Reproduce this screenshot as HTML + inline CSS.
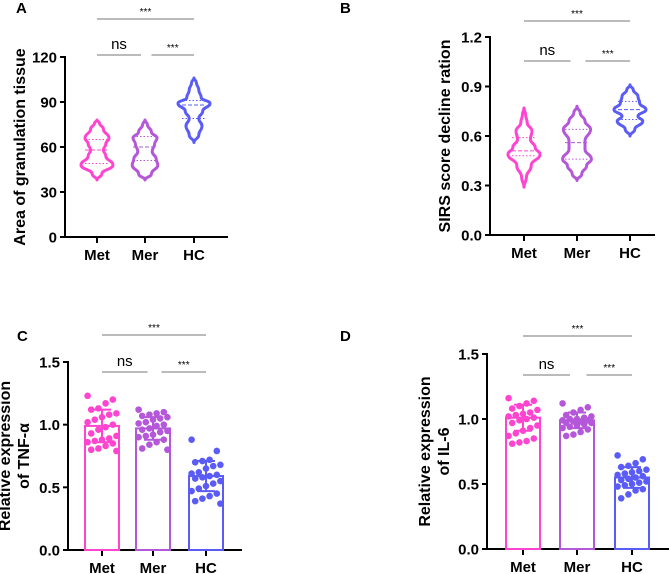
<!DOCTYPE html>
<html><head><meta charset="utf-8"><style>
body{margin:0;background:#fff;}
svg{display:block;font-family:"Liberation Sans",Arial,sans-serif;}
</style></head><body>
<svg id="c" width="669" height="574" viewBox="0 0 669 574"></svg>
<script>
const cats=["Met","Mer","HC"];
const colors=["#ff45cf","#b557d9","#5b5cf6"];
// Panel A violins
const aVals=[[38,42,48,54,58,62,66,72,76,78],[38,42,48,52,57,62,66,70,75,78],[63,68,74,79,84,89,93,98,103,106]];
const aDens=[[0,.3,1,.55,.4,.55,.75,.4,.15,0],[0,.4,.8,.7,.45,.6,.75,.4,.15,0],[0,.3,.5,.3,.55,1,.45,.3,.15,0]];
const aQuart=[[49,58,65],[51,60,67],[79,88,91]];
const aTicks=[0,30,60,90,120];
// Panel B violins
const bVals=[[.29,.35,.42,.49,.53,.58,.63,.68,.73,.77],[.33,.37,.42,.46,.52,.57,.64,.69,.74,.78],[.6,.64,.69,.72,.76,.8,.84,.88,.91]];
const bDens=[[0,.15,.45,1,.7,.4,.5,.2,.1,0],[0,.3,.6,.9,.5,.5,.85,.5,.2,0],[0,.3,.8,.5,1,.6,.5,.2,0]];
const bQuart=[[.48,.51,.59],[.46,.56,.64],[.70,.76,.81]];
const bTicks=[0,0.3,0.6,0.9,1.2];
// Panel C bars
const cMeans=[0.99,0.97,0.59];
const cSD=[0.13,0.09,0.12];
const cPts=[[1.23,1.20,1.17,1.13,1.12,1.09,1.08,1.06,1.04,1.02,1.0,0.98,0.96,0.93,0.91,0.89,0.88,0.87,0.86,0.85,0.83,0.81,0.80,0.79],
[1.12,1.10,1.09,1.08,1.07,1.06,1.05,1.04,1.02,1.01,1.0,0.99,0.97,0.96,0.95,0.94,0.92,0.91,0.90,0.88,0.86,0.84,0.81,0.80],
[0.88,0.79,0.72,0.71,0.70,0.68,0.67,0.65,0.62,0.61,0.60,0.59,0.58,0.57,0.55,0.53,0.51,0.49,0.47,0.45,0.43,0.41,0.39,0.37]];
const cTicks=[0,0.5,1.0,1.5];
// Panel D bars
const dMeans=[1.01,0.99,0.55];
const dSD=[0.10,0.06,0.08];
const dPts=[[1.16,1.14,1.12,1.10,1.08,1.07,1.05,1.04,1.03,1.02,1.01,1.0,0.99,0.97,0.95,0.93,0.91,0.89,0.87,0.85,0.83,0.82,0.81],
[1.12,1.09,1.07,1.05,1.03,1.02,1.01,1.0,1.0,0.99,0.99,0.98,0.98,0.97,0.97,0.96,0.95,0.94,0.93,0.92,0.90,0.88,0.87],
[0.72,0.69,0.66,0.64,0.63,0.61,0.60,0.59,0.58,0.57,0.56,0.55,0.54,0.53,0.52,0.51,0.50,0.49,0.48,0.46,0.45,0.42,0.39]];
const dTicks=[0,0.5,1.0,1.5];

const svg=document.getElementById('c');const NS="http://www.w3.org/2000/svg";
function mk(t,a,p){const e=document.createElementNS(NS,t);for(const k in a)e.setAttribute(k,a[k]);(p||svg).appendChild(e);return e;}
function txt(s,a,p){const e=mk('text',a,p);e.textContent=s;return e;}

function axes(P){
 const g=mk('g',{});
 
 
 const y=v=>P.y0+(P.y1-P.y0)*(v-P.t[0])/(P.t[P.t.length-1]-P.t[0]);
 const l=txt(P.id,{x:P.lx,y:P.ly,'font-size':15,'font-weight':'bold'},g);
 
 const ya=mk('line',{x1:P.ax,x2:P.ax,y1:P.y1-1,y2:P.y0+1,stroke:'#000','stroke-width':2},g);
 
 const xa=mk('line',{x1:P.ax-1,x2:P.axEnd,y1:P.y0,y2:P.y0,stroke:'#000','stroke-width':2},g);
 
 P.t.forEach(v=>{mk('line',{x1:P.ax-5,x2:P.ax,y1:y(v),y2:y(v),stroke:'#000','stroke-width':2},g);
  const t=txt(P.fmt(v),{x:P.ax-8,y:y(v)+5.5,'text-anchor':'end','font-size':15,'font-weight':'bold'},g);
  });
 cats.forEach((c,i)=>{mk('line',{x1:P.cx[i],x2:P.cx[i],y1:P.y0,y2:P.y0+6,stroke:'#000','stroke-width':2},g);
  const t=txt(c,{x:P.cx[i],y:P.y0+23,'text-anchor':'middle','font-size':15,'font-weight':'bold'},g);
  });
 const tl=mk('text',{transform:`translate(${P.tx},${(P.y0+P.y1)/2}) rotate(-90)`,'text-anchor':'middle','font-size':16,'font-weight':'bold'},g);
 P.title.forEach((s,k)=>{const ts=mk('tspan',{x:0,dy:k?19:0},tl);ts.textContent=s;});
 
 const br=(a,b,yy,lab,ns)=>{mk('line',{x1:a,x2:b,y1:yy,y2:yy,stroke:'#777','stroke-width':1},g);
  const t=txt(lab,{x:(a+b)/2,y:yy-(ns?6:4),'text-anchor':'middle','font-size':ns?15:10},g);
  };
 br(P.cx[0],P.cx[2],P.bt,'***');br(P.cx[0],(P.cx[0]+P.cx[1])/2+20,P.bl,'ns',1);br((P.cx[1]+P.cx[2])/2-18,P.cx[2],P.bl,'***');
 return {g,y};
}
function violins(P,vals,dens,quart){
 const {g,y}=axes(P);
 vals.forEach((vs,i)=>{
  const cx=P.cx[i];const pts=vs.map((v,k)=>[cx+dens[i][k]*16,y(v)]);
  const left=vs.map((v,k)=>[cx-dens[i][k]*16,y(v)]).reverse();
  const all=pts.concat(left);
  let d='M'+all[0].join(',');
  for(let k=1;k<all.length;k++){const p0=all[k-1],p1=all[k];const my=(p0[1]+p1[1])/2;d+=` C${p0[0]},${my} ${p1[0]},${my} ${p1[0]},${p1[1]}`;}
  const p=mk('path',{d:d+'Z',fill:'none',stroke:colors[i],'stroke-width':3,'stroke-linejoin':'round'},g);
  
  quart[i].forEach((q,k)=>{mk('line',{x1:cx-12,x2:cx+12,y1:y(q),y2:y(q),stroke:colors[i],'stroke-width':1,'stroke-dasharray':k==1?'4,2':'1.5,2'},g);});
 });
}
function bars(P,means,sd,pts){
 const {g,y}=axes(P);
 means.forEach((m,i)=>{
  const cx=P.cx[i];
  const r=mk('rect',{x:cx-17,y:y(m),width:34,height:P.y0-y(m),fill:'none',stroke:colors[i],'stroke-width':2},g);
  
  pts[i].forEach((v,k)=>{const off=((k*7)%9-4)*3.6;
   const c=mk('circle',{cx:cx+off,cy:y(v),r:3.3,fill:colors[i]},g);
   });
  mk('line',{x1:cx,x2:cx,y1:y(m-sd[i]),y2:y(m+sd[i]),stroke:colors[i],'stroke-width':2},g);
  [m-sd[i],m+sd[i]].forEach(v=>mk('line',{x1:cx-9,x2:cx+9,y1:y(v),y2:y(v),stroke:colors[i],'stroke-width':2},g));
 });
}
const f0=v=>String(v),f1=v=>v.toFixed(1);
violins({id:'A',lx:16,ly:13,ax:65,axEnd:228,y0:237,y1:57,t:aTicks,fmt:f0,cx:[97,145,194],tx:25,title:['Area of granulation tissue'],bt:19,bl:55},aVals,aDens,aQuart);
violins({id:'B',lx:340,ly:13,ax:490,axEnd:655,y0:235,y1:37,t:bTicks,fmt:f1,cx:[524,577,630],tx:450,title:['SIRS score decline ration'],bt:21,bl:61},bVals,bDens,bQuart);
bars({id:'C',lx:17,ly:341,ax:68,axEnd:242,y0:550,y1:362,t:cTicks,fmt:f1,cx:[102,153,206],tx:10,title:['Relative expression','of TNF-α'],bt:335,bl:372},cMeans,cSD,cPts);
bars({id:'D',lx:340,ly:341,ax:487,axEnd:669,y0:549,y1:354,t:dTicks,fmt:f1,cx:[523,577,632],tx:430,title:['Relative expression','of IL-6'],bt:336,bl:375},dMeans,dSD,dPts);
</script>
</body></html>
